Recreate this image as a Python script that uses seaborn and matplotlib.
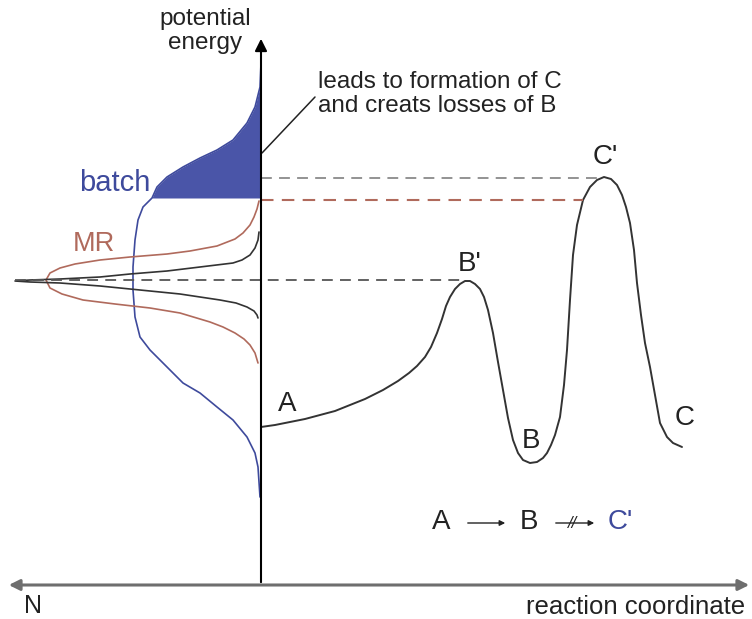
import numpy as np
import pandas as pd
import seaborn as sns
import matplotlib
matplotlib.use('Agg')
import matplotlib.pyplot as plt

# энергетический профиль реакции: координата реакции -> потенциальная энергия
profile_rc = [0, 14, 29, 44, 59, 74, 89, 104, 122, 137, 148, 156, 164, 170, 176, 181, 185, 189, 194, 199,
              204, 209, 214, 219, 223, 227, 232, 237, 242, 247, 252, 257, 262, 269, 276, 282, 286, 290,
              294, 299, 303, 306, 309, 312, 316, 322, 329, 336, 343, 350, 356, 361, 365, 369, 373, 376,
              380, 384, 389, 394, 399, 406, 412, 421]
profile_e = [158, 160, 163, 166, 170, 174, 180, 186, 195, 204, 212, 219, 228, 238, 252, 266, 279, 288, 296, 301,
             304, 304, 301, 296, 288, 275, 252, 223, 195, 167, 145, 132, 125, 122, 123, 127, 132, 140,
             150, 168, 200, 235, 285, 330, 360, 385, 398, 405, 408, 406, 400, 390, 378, 362, 335, 302,
             270, 242, 218, 190, 162, 148, 142, 138]

# распределения по энергии (N откладывается влево, поэтому отрицательные значения)
batch_n = [0, -1, -6, -14, -28, -44, -61, -78, -94, -104, -109, -118, -123, -126, -128, -128, -126,
           -121, -111, -94, -78, -61, -44, -28, -14, -6, -3, -1]
batch_e = [522, 498, 478, 462, 445, 435, 427, 418, 408, 398, 387, 378, 365, 345, 318, 295, 268,
           248, 235, 218, 202, 192, 178, 165, 148, 132, 118, 88]

mr_n = [-2, -4, -7, -11, -18, -26, -44, -71, -94, -131, -161, -186, -201, -211, -215, -211, -199, -178,
        -146, -111, -81, -51, -38, -26, -17, -11, -6, -3]
mr_e = [384, 376, 368, 360, 352, 346, 339, 334, 331, 328, 325, 321, 317, 312, 305, 297, 291, 285,
        281, 277, 272, 263, 258, 252, 246, 240, 232, 222]

narrow_n = [-2, -3, -6, -11, -19, -28, -61, -94, -131, -161, -201, -231, -246, -231, -201, -161, -121,
            -81, -41, -25, -14, -7, -4, -3]
narrow_e = [353, 345, 337, 330, 325, 322, 318, 314, 311, 308, 306, 305, 304, 303, 302, 299, 295,
            291, 285, 282, 278, 274, 270, 267]

batch_cut = 387          # граница заливки batch
level_c = 407            # уровень C'
level_mr = 385           # уровень MR
level_b = 305            # уровень B'

sns.set_style('white')
plt.rcParams['font.family'] = ['Liberation Sans', 'DejaVu Sans']

fig = plt.figure(figsize=(7.52, 6.19), dpi=100)
ax = fig.add_axes([0, 0, 1, 1])
ax.set_xlim(-261, 491)
ax.set_ylim(-34, 585)
ax.axis('off')

blue = '#3e4a9c'
red = '#b06a5c'
ink = '#222222'

# заливка верхней части batch
bn = np.array(batch_n)
be = np.array(batch_e)
mask = be >= batch_cut
ax.fill_betweenx(be[mask], bn[mask], 0, color='#4a55a8', lw=0)

sns.lineplot(x=batch_n, y=batch_e, sort=False, estimator=None, ax=ax, color=blue, lw=1.2)
sns.lineplot(x=mr_n, y=mr_e, sort=False, estimator=None, ax=ax, color=red, lw=1.2)
sns.lineplot(x=narrow_n, y=narrow_e, sort=False, estimator=None, ax=ax, color='#333333', lw=1.2)
sns.lineplot(x=profile_rc, y=profile_e, sort=False, estimator=None, ax=ax, color='#333333', lw=1.4)

# пунктирные уровни
ax.plot([0, 339], [level_c, level_c], ls=(0, (6, 4)), color='#8a8a8a', lw=1.3)
ax.plot([0, 322], [level_mr, level_mr], ls=(0, (6, 4)), color=red, lw=1.5)
ax.plot([-246, 204], [level_b, level_b], ls=(0, (6, 4)), color='#555555', lw=1.3)

# оси
ax.annotate('', xy=(0, 549), xytext=(0, 0),
            arrowprops=dict(arrowstyle='-|>', color='black', lw=1.5, mutation_scale=18))
ax.annotate('', xy=(-255, 0), xytext=(491, 0),
            arrowprops=dict(arrowstyle='<|-|>', color='#6e6e6e', lw=2.2, mutation_scale=16))

# подписи
ax.text(-56, 554, 'potential\nenergy', ha='center', va='center', fontsize=17.5,
        linespacing=1.1, color=ink)
ax.plot([1, 54], [432, 488], color=ink, lw=1.1)
ax.text(57, 491, 'leads to formation of C\nand creats losses of B', ha='left', va='center',
        fontsize=17.5, linespacing=1.12, color=ink)
ax.text(-111, 402, 'batch', ha='right', va='center', fontsize=21, color=blue)
ax.text(-188, 341, 'MR', ha='left', va='center', fontsize=19.5, color=red)

for lbl, px, py in [("B'", 209, 321), ("C'", 344, 428), ('A', 26, 181), ('B', 270, 144), ('C', 424, 167)]:
    ax.text(px, py, lbl, ha='center', va='center', fontsize=20, color=ink)

ax.text(180, 63, 'A', ha='center', va='center', fontsize=20, color=ink)
ax.annotate('', xy=(247, 62), xytext=(204, 62),
            arrowprops=dict(arrowstyle='-|>', color=ink, lw=1.0, mutation_scale=8))
ax.text(268, 63, 'B', ha='center', va='center', fontsize=20, color=ink)
ax.annotate('', xy=(336, 62), xytext=(292, 62),
            arrowprops=dict(arrowstyle='-|>', color=ink, lw=1.0, mutation_scale=8))
ax.text(312, 62, '//', ha='center', va='center', fontsize=12, color=ink, style='italic')
ax.text(359, 63, "C'", ha='center', va='center', fontsize=20, color=blue)

ax.text(-228, -21, 'N', ha='center', va='center', fontsize=18, color=ink)
ax.text(484, -22, 'reaction coordinate', ha='right', va='center', fontsize=18.5, color=ink)

fig.savefig('out.png', dpi=100)
